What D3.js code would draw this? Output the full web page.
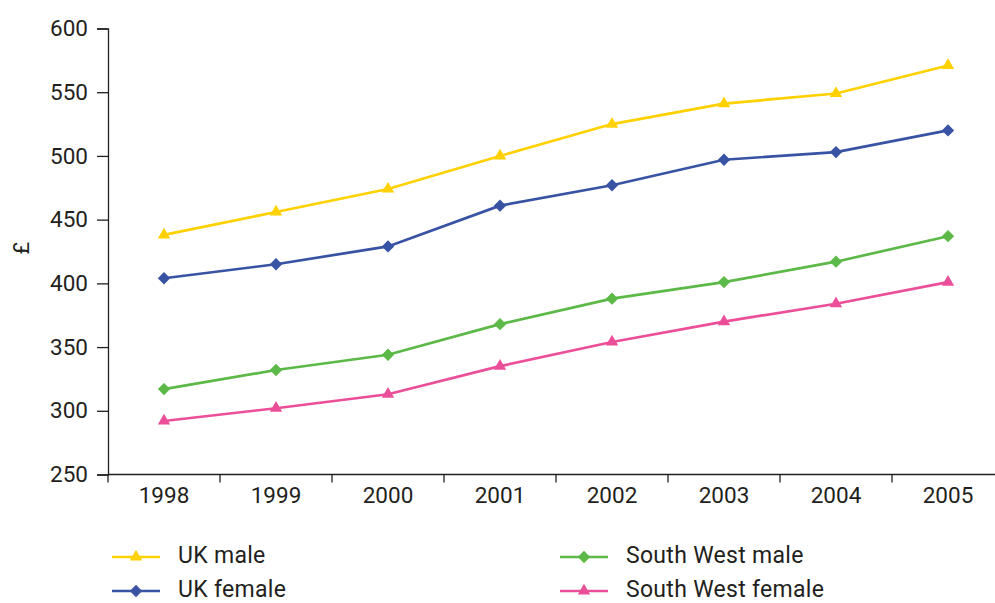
<!DOCTYPE html>
<html>
<head>
<meta charset="utf-8">
<script src="https://cdn.jsdelivr.net/npm/d3@7"></script>
<style>
  html, body { margin: 0; padding: 0; background: #fff; }
  svg text { font-family: "Roboto", "Liberation Sans", sans-serif; fill: #231f20; }
</style>
</head>
<body>
<svg id="chart" width="995" height="603"></svg>
<script>
// Average weekly earnings (£), 1998–2005
const years = ["1998", "1999", "2000", "2001", "2002", "2003", "2004", "2005"];
const ukMale = [438, 456, 474, 500, 525, 541, 549, 571];
const ukFemale = [404, 415, 429, 461, 477, 497, 503, 520];
const swMale = [317, 332, 344, 368, 388, 401, 417, 437];
const swFemale = [292, 302, 313, 335, 354, 370, 384, 401];
const yTicks = [250, 300, 350, 400, 450, 500, 550, 600];

const series = [
  { name: "UK male", values: ukMale, color: "#ffd100", shape: "triangle" },
  { name: "UK female", values: ukFemale, color: "#3953a4", shape: "diamond" },
  { name: "South West male", values: swMale, color: "#5cb947", shape: "diamond" },
  { name: "South West female", values: swFemale, color: "#ec4f9a", shape: "triangle" }
];

// triangle: d3 triangle; diamond: a square turned 45 degrees
function marker(shape) {
  return shape === "triangle"
    ? { d: d3.symbol().type(d3.symbolTriangle).size(66)(), rot: 0 }
    : { d: d3.symbol().type(d3.symbolSquare).size(76)(), rot: 45 };
}

const svg = d3.select("#chart");

const x = d3.scaleBand().domain(years).range([108, 1004]);
const y = d3.scaleLinear().domain([250, 600]).range([474.5, 28.5]);

// y axis
const yAxis = svg.append("g")
  .attr("transform", "translate(108,0)")
  .call(d3.axisLeft(y).tickValues(yTicks).tickSize(11).tickPadding(9));
yAxis.attr("font-family", null);
yAxis.select(".domain").attr("stroke", "#231f20").attr("stroke-width", 1.3);
yAxis.selectAll(".tick line").attr("stroke", "#231f20").attr("stroke-width", 1.3);
yAxis.selectAll(".tick text").attr("font-size", 22.5).attr("fill", null);

// x axis: ticks at band edges, labels at band centres
const xAxisG = svg.append("g").attr("transform", "translate(0,474.5)");
xAxisG.append("line")
  .attr("x1", 108).attr("x2", 1004)
  .attr("stroke", "#231f20").attr("stroke-width", 1.3);
xAxisG.selectAll("line.tk")
  .data(years)
  .join("line")
  .attr("class", "tk")
  .attr("x1", d => x(d)).attr("x2", d => x(d))
  .attr("y1", 0).attr("y2", 8)
  .attr("stroke", "#231f20").attr("stroke-width", 1.3);
xAxisG.selectAll("text")
  .data(years)
  .join("text")
  .attr("x", d => x(d) + x.bandwidth() / 2)
  .attr("y", 28.5)
  .attr("text-anchor", "middle")
  .attr("font-size", 22.5)
  .text(d => d);

// y axis title
svg.append("text")
  .attr("transform", "translate(29,248) rotate(-90)")
  .attr("text-anchor", "middle")
  .attr("font-size", 22)
  .text("£");

// series lines and markers
const line = d3.line()
  .x((d, i) => x(years[i]) + x.bandwidth() / 2)
  .y(d => y(d));

series.forEach(s => {
  svg.append("path")
    .attr("d", line(s.values))
    .attr("fill", "none")
    .attr("stroke", s.color)
    .attr("stroke-width", 2.7);
  const m = marker(s.shape);
  svg.append("g").selectAll("path")
    .data(s.values)
    .join("path")
    .attr("transform", (d, i) => `translate(${x(years[i]) + x.bandwidth() / 2},${y(d)}) rotate(${m.rot})`)
    .attr("d", m.d)
    .attr("fill", s.color);
});

// legend
const legendPos = [
  { x: 112, y: 557 }, { x: 112, y: 591 },
  { x: 560, y: 557 }, { x: 560, y: 591 }
];
series.forEach((s, i) => {
  const p = legendPos[i];
  const g = svg.append("g").attr("transform", `translate(${p.x},${p.y})`);
  g.append("line").attr("x1", 0).attr("x2", 48).attr("stroke", s.color).attr("stroke-width", 2.7);
  const m = marker(s.shape);
  g.append("path")
    .attr("transform", `translate(24,0) rotate(${m.rot})`)
    .attr("d", m.d)
    .attr("fill", s.color);
  g.append("text")
    .attr("x", 66)
    .attr("y", 5.5)
    .attr("font-size", 23)
    .attr("letter-spacing", 0.3)
    .text(s.name);
});
</script>
</body>
</html>
